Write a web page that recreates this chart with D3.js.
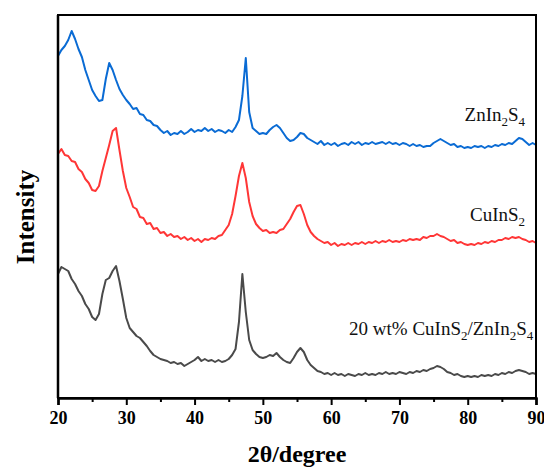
<!DOCTYPE html>
<html>
<head>
<meta charset="utf-8">
<script src="https://cdn.jsdelivr.net/npm/d3@7/dist/d3.min.js"></script>
<style>
  body { margin: 0; background: #fff; }
  text { font-family: "Liberation Serif", "Times New Roman", serif; }
</style>
</head>
<body>
<svg id="chart"></svg>
<script>
// ----------------------------------
// 1) Data (0.5 degree steps, stacked intensity a.u.)
// ----------------------------------
const twoTheta = d3.range(0, 141).map(i => 20 + i * 0.5);

const znIn2S4 = [
  344, 350, 354, 360, 369, 361, 351, 343, 330, 320, 310, 304, 299, 300, 321, 337, 330, 320, 311, 305,
  300, 296, 291, 292, 286, 285, 280, 279, 275, 274, 270, 267, 269, 265, 267, 266, 269, 266, 268, 271,
  268, 270, 269, 272, 269, 271, 268, 270, 269, 267, 270, 268, 273, 280, 304, 342, 288, 272, 269, 266,
  267, 266, 270, 273, 275, 272, 267, 262, 259, 260, 263, 267, 266, 262, 260, 258, 256, 259, 255, 257,
  255, 257, 254, 256, 257, 255, 258, 256, 258, 255, 257, 256, 258, 256, 257, 258, 256, 258, 256, 257,
  255, 257, 256, 254, 256, 254, 255, 253, 254, 254, 257, 259, 261, 259, 257, 255, 256, 253, 254, 252,
  253, 252, 254, 253, 254, 252, 254, 253, 255, 254, 256, 255, 257, 256, 259, 262, 261, 258, 255, 257,
  255
];

const cuInS2 = [
  246, 251, 245, 244, 239, 238, 231, 228, 221, 217, 210, 209, 214, 229, 242, 255, 269, 272, 250, 229,
  212, 203, 193, 191, 183, 182, 176, 177, 171, 172, 167, 168, 164, 166, 163, 164, 161, 163, 160, 162,
  159, 161, 158, 161, 160, 162, 161, 164, 165, 170, 175, 186, 204, 224, 237, 222, 198, 184, 176, 172,
  169, 170, 167, 168, 167, 170, 171, 176, 181, 188, 194, 195, 186, 175, 168, 164, 161, 159, 157, 158,
  155, 157, 154, 156, 155, 157, 155, 157, 156, 158, 156, 158, 157, 159, 157, 159, 158, 160, 158, 159,
  158, 160, 159, 161, 160, 161, 160, 163, 162, 164, 164, 166, 164, 163, 161, 159, 160, 157, 158, 156,
  155, 156, 155, 157, 156, 158, 157, 159, 158, 160, 160, 162, 161, 163, 162, 163, 161, 160, 158, 159,
  157
];

const composite = [
  126, 133, 131, 129, 121, 116, 109, 104, 96, 91, 83, 80, 86, 106, 120, 122, 129, 134, 119, 101,
  82, 72, 68, 64, 62, 58, 54, 49, 45, 43, 41, 40, 39, 37, 38, 36, 37, 34, 36, 38,
  40, 43, 39, 41, 39, 40, 38, 40, 38, 39, 41, 45, 51, 78, 126, 88, 60, 50, 46, 43,
  42, 43, 45, 44, 47, 43, 40, 38, 37, 42, 48, 52, 48, 40, 35, 32, 29, 28, 26, 27,
  25, 27, 25, 26, 24, 26, 25, 24, 26, 25, 27, 25, 26, 25, 27, 26, 28, 26, 27, 26,
  28, 27, 26, 28, 27, 29, 28, 30, 29, 31, 32, 34, 33, 31, 28, 27, 25, 26, 24, 23,
  24, 23, 24, 23, 25, 24, 25, 24, 26, 25, 27, 26, 28, 27, 29, 30, 29, 28, 26, 27,
  26
];

const seriesNames = ["ZnIn2S4", "CuInS2", "20 wt% CuInS2/ZnIn2S4"];
const seriesColors = ["#0a6bd4", "#ff3636", "#4a4a4a"];
const xTicks = [20, 30, 40, 50, 60, 70, 80, 90];
const xMinorTicks = [25, 35, 45, 55, 65, 75, 85];

// label text pieces: [text, isSubscript]
const labelParts = [
  [["ZnIn", 0], ["2", 1], ["S", 0], ["4", 1]],
  [["CuInS", 0], ["2", 1]],
  [["20 wt% CuInS", 0], ["2", 1], ["/ZnIn", 0], ["2", 1], ["S", 0], ["4", 1]]
];
// label anchor (degree, intensity)
const labelAnchors = [[88.4, 279], [88.4, 179], [89.6, 65]];

// ----------------------------------
// 2) Setup SVG
// ----------------------------------
const width = 544;
const height = 468;
const margin = { top: 15, right: 8, bottom: 70, left: 58 };

const svg = d3.select("#chart").attr("width", width).attr("height", height);

const x = d3.scaleLinear().domain([20, 90]).range([margin.left, width - margin.right]);
const y = d3.scaleLinear().domain([2, 385]).range([height - margin.bottom, margin.top]);

const series = [znIn2S4, cuInS2, composite];

// ----------------------------------
// 3) Curves
// ----------------------------------
const line = d3.line()
  .x((d, i) => x(twoTheta[i]))
  .y(d => y(d));

svg.append("g")
  .selectAll("path")
  .data(series)
  .enter()
  .append("path")
  .attr("d", d => line(d))
  .attr("fill", "none")
  .attr("stroke", (d, i) => seriesColors[i])
  .attr("stroke-width", 2)
  .attr("stroke-linejoin", "round");

// ----------------------------------
// 4) Frame and axes
// ----------------------------------
svg.append("rect")
  .attr("x", margin.left)
  .attr("y", margin.top)
  .attr("width", width - margin.left - margin.right)
  .attr("height", height - margin.top - margin.bottom)
  .attr("fill", "none")
  .attr("stroke", "#000")
  .attr("stroke-width", 2);

const xAxis = svg.append("g")
  .attr("transform", `translate(0,${height - margin.bottom})`)
  .call(d3.axisBottom(x).tickValues(xTicks).tickSize(7).tickPadding(6).tickFormat(d3.format("d")));

xAxis.select(".domain").attr("stroke-width", 2.5);
xAxis.selectAll(".tick line").attr("stroke-width", 2);
xAxis.selectAll(".tick text")
  .attr("font-family", '"Liberation Serif", serif')
  .attr("font-size", 18)
  .attr("font-weight", "bold")
  .attr("fill", "#000");

const xMinor = svg.append("g")
  .attr("transform", `translate(0,${height - margin.bottom})`)
  .call(d3.axisBottom(x).tickValues(xMinorTicks).tickSize(4).tickFormat(""));
xMinor.select(".domain").remove();
xMinor.selectAll(".tick line").attr("stroke-width", 2);

svg.append("line")
  .attr("x1", margin.left).attr("x2", margin.left)
  .attr("y1", margin.top).attr("y2", height - margin.bottom)
  .attr("stroke", "#000")
  .attr("stroke-width", 2.5);

// Axis titles
svg.append("text")
  .attr("x", (margin.left + width - margin.right) / 2)
  .attr("y", 462)
  .attr("text-anchor", "middle")
  .attr("font-size", 24)
  .attr("font-weight", "bold")
  .text("2θ/degree");

svg.append("text")
  .attr("transform", "translate(34,217) rotate(-90)")
  .attr("text-anchor", "middle")
  .attr("font-size", 25)
  .attr("font-weight", "bold")
  .text("Intensity");

// ----------------------------------
// 5) Series labels
// ----------------------------------
labelParts.forEach((parts, i) => {
  const t = svg.append("text")
    .attr("x", x(labelAnchors[i][0]))
    .attr("y", y(labelAnchors[i][1]))
    .attr("text-anchor", "end")
    .attr("font-size", 19)
    .attr("fill", "#111");
  let sub = false;
  parts.forEach(([s, isSub]) => {
    const dy = isSub && !sub ? 5 : (!isSub && sub ? -5 : 0);
    t.append("tspan")
      .attr("dy", dy)
      .attr("font-size", isSub ? 13 : 19)
      .text(s);
    sub = !!isSub;
  });
});
</script>
</body>
</html>
